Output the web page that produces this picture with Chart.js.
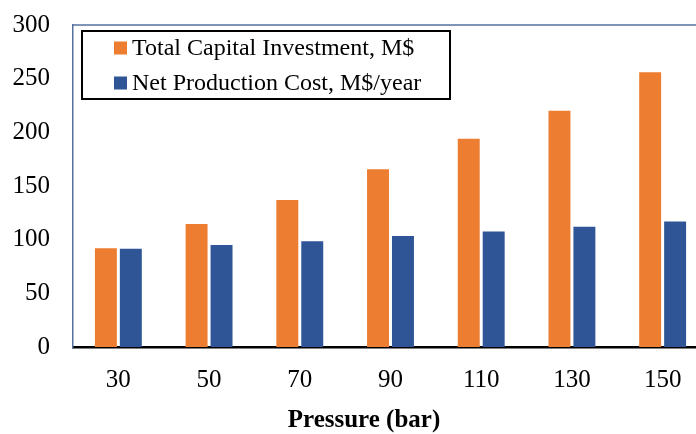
<!DOCTYPE html>
<html>
<head>
<meta charset="utf-8">
<script src="https://cdn.jsdelivr.net/npm/chart.js@4/dist/chart.umd.min.js"></script>
<style>
  html, body { margin: 0; padding: 0; background: #fff; overflow: hidden; width: 696px; height: 434px; }
  #wrap { width: 714px; height: 434px; }
</style>
</head>
<body>
<div id="wrap"><canvas id="chart" width="714" height="434"></canvas></div>
<script>
const pressures = ["30", "50", "70", "90", "110", "130", "150"];
const capitalInvestment = [92, 114.5, 137, 165.5, 194, 220, 256];
const productionCost = [91.5, 95, 98.5, 103.5, 107.5, 112, 117];
const yTicks = [0, 50, 100, 150, 200, 250, 300];
const xTitle = "Pressure (bar)";

const serif = "'Liberation Serif', 'Times New Roman', serif";
const frameColor = "#56709e";

// legend box, top frame line and axis title drawn by hand
const boxLegend = {
  id: "boxLegend",
  afterDraw(chart) {
    const { ctx, chartArea } = chart;
    ctx.save();
    ctx.strokeStyle = frameColor;
    ctx.lineWidth = 1.5;
    ctx.beginPath();
    ctx.moveTo(chartArea.left, chartArea.top);
    ctx.lineTo(chartArea.right, chartArea.top);
    ctx.stroke();

    const x0 = chartArea.left + 9;
    const y0 = chartArea.top + 6;
    ctx.strokeStyle = "#000";
    ctx.lineWidth = 2;
    ctx.strokeRect(x0, y0, 368, 68);

    ctx.font = "24px " + serif;
    ctx.textBaseline = "middle";
    chart.data.datasets.forEach((ds, i) => {
      const cy = y0 + 17 + i * 35;
      ctx.fillStyle = ds.backgroundColor;
      ctx.fillRect(x0 + 32, cy - 6.5, 13, 13);
      ctx.fillStyle = "#000";
      ctx.fillText(ds.label, x0 + 50, cy + 1);
    });

    ctx.font = "bold 25px " + serif;
    ctx.textAlign = "center";
    ctx.fillText(xTitle, 364, 421);
    ctx.restore();
  }
};

new Chart(document.getElementById("chart"), {
  type: "bar",
  data: {
    labels: pressures,
    datasets: [
      {
        label: "Total Capital Investment, M$",
        data: capitalInvestment,
        backgroundColor: "#ED7D31",
        categoryPercentage: 0.55,
        barPercentage: 0.88
      },
      {
        label: "Net Production Cost, M$/year",
        data: productionCost,
        backgroundColor: "#2F5597",
        categoryPercentage: 0.55,
        barPercentage: 0.88
      }
    ]
  },
  options: {
    responsive: false,
    animation: false,
    layout: { padding: { top: 25, right: 6, left: 0, bottom: 0 } },
    plugins: { legend: { display: false }, tooltip: { enabled: false } },
    scales: {
      x: {
        grid: { display: false, drawTicks: false },
        border: { color: "#000", width: 2.5 },
        ticks: { color: "#000", font: { family: serif, size: 25 }, padding: 18 },
        afterFit(scale) {
          scale.height = 87;
          scale.paddingLeft = 0;
          scale.paddingRight = 0;
        }
      },
      y: {
        min: 0,
        max: 300,
        afterBuildTicks(scale) { scale.ticks = yTicks.map((v) => ({ value: v })); },
        grid: { display: false, drawTicks: false },
        border: { color: frameColor, width: 1.5 },
        ticks: { color: "#000", font: { family: serif, size: 25 }, padding: 23 },
        afterFit(scale) {
          scale.width = 73;
          scale.paddingTop = 0;
          scale.paddingBottom = 0;
        }
      }
    }
  },
  plugins: [boxLegend]
});
</script>
</body>
</html>
